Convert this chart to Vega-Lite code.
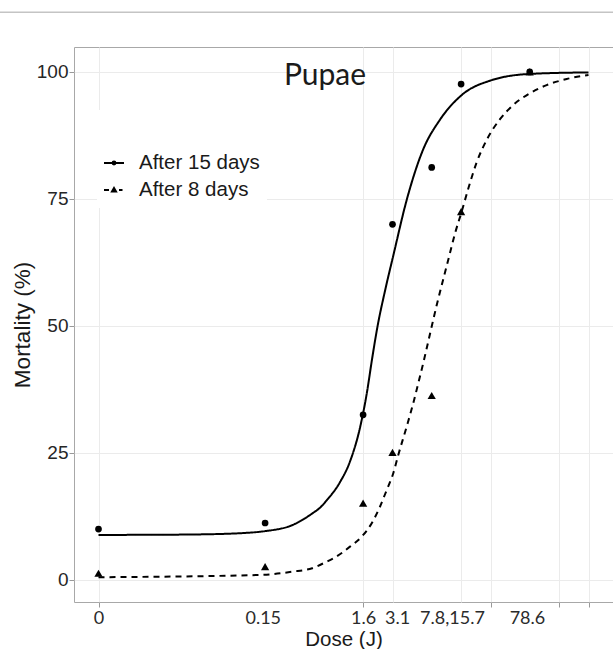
{
  "$schema": "https://vega.github.io/schema/vega-lite/v6.json",
  "width": 539,
  "height": 555,
  "autosize": {"type": "none"},
  "padding": {"left": 74, "top": 47, "right": 0, "bottom": 47},
  "background": "white",
  "config": {
    "view": {"stroke": "#a8a8a8", "strokeWidth": 1}
  },
  "datasets": {
    "points": [
      {"series": "After 15 days", "dose": "0", "L": -2.5, "val": 10.0},
      {"series": "After 15 days", "dose": "0.15", "L": -0.8, "val": 11.2},
      {"series": "After 15 days", "dose": "1.6", "L": 0.2, "val": 32.5},
      {"series": "After 15 days", "dose": "3.1", "L": 0.5, "val": 70.0},
      {"series": "After 15 days", "dose": "7.8", "L": 0.9, "val": 81.2},
      {"series": "After 15 days", "dose": "15.7", "L": 1.2, "val": 97.6},
      {"series": "After 15 days", "dose": "78.6", "L": 1.9, "val": 100.0},
      {"series": "After 8 days", "dose": "0", "L": -2.5, "val": 1.3},
      {"series": "After 8 days", "dose": "0.15", "L": -0.8, "val": 2.6},
      {"series": "After 8 days", "dose": "1.6", "L": 0.2, "val": 15.1},
      {"series": "After 8 days", "dose": "3.1", "L": 0.5, "val": 25.1},
      {"series": "After 8 days", "dose": "7.8", "L": 0.9, "val": 36.3},
      {"series": "After 8 days", "dose": "15.7", "L": 1.2, "val": 72.5},
      {"series": "After 8 days", "dose": "78.6", "L": 1.9, "val": 100.0}
    ],
    "curves": [
      {"series": "After 15 days", "L": -2.5, "val": 8.85},
      {"series": "After 15 days", "L": -2.0, "val": 8.88},
      {"series": "After 15 days", "L": -1.5, "val": 8.95},
      {"series": "After 15 days", "L": -1.0, "val": 9.25},
      {"series": "After 15 days", "L": -0.8, "val": 9.6},
      {"series": "After 15 days", "L": -0.52, "val": 10.8},
      {"series": "After 15 days", "L": -0.31, "val": 13.2},
      {"series": "After 15 days", "L": -0.24, "val": 14.2},
      {"series": "After 15 days", "L": -0.17, "val": 15.7},
      {"series": "After 15 days", "L": -0.04, "val": 19.1},
      {"series": "After 15 days", "L": 0.07, "val": 23.5},
      {"series": "After 15 days", "L": 0.17, "val": 30.1},
      {"series": "After 15 days", "L": 0.24, "val": 37.0},
      {"series": "After 15 days", "L": 0.29, "val": 43.3},
      {"series": "After 15 days", "L": 0.35, "val": 50.2},
      {"series": "After 15 days", "L": 0.42, "val": 56.6},
      {"series": "After 15 days", "L": 0.51, "val": 64.0},
      {"series": "After 15 days", "L": 0.645, "val": 74.8},
      {"series": "After 15 days", "L": 0.81, "val": 84.6},
      {"series": "After 15 days", "L": 0.985, "val": 90.6},
      {"series": "After 15 days", "L": 1.21, "val": 95.5},
      {"series": "After 15 days", "L": 1.5, "val": 98.3},
      {"series": "After 15 days", "L": 1.9, "val": 99.6},
      {"series": "After 15 days", "L": 2.5, "val": 99.9},
      {"series": "After 8 days", "L": -2.5, "val": 0.53},
      {"series": "After 8 days", "L": -0.85, "val": 0.98},
      {"series": "After 8 days", "L": -0.52, "val": 1.63},
      {"series": "After 8 days", "L": -0.32, "val": 2.3},
      {"series": "After 8 days", "L": -0.17, "val": 3.6},
      {"series": "After 8 days", "L": -0.1, "val": 4.27},
      {"series": "After 8 days", "L": 0.066, "val": 6.55},
      {"series": "After 8 days", "L": 0.186, "val": 8.52},
      {"series": "After 8 days", "L": 0.288, "val": 11.16},
      {"series": "After 8 days", "L": 0.372, "val": 14.4},
      {"series": "After 8 days", "L": 0.441, "val": 17.7},
      {"series": "After 8 days", "L": 0.508, "val": 21.0},
      {"series": "After 8 days", "L": 0.559, "val": 24.6},
      {"series": "After 8 days", "L": 0.645, "val": 30.2},
      {"series": "After 8 days", "L": 0.712, "val": 34.8},
      {"series": "After 8 days", "L": 0.763, "val": 38.7},
      {"series": "After 8 days", "L": 0.814, "val": 42.7},
      {"series": "After 8 days", "L": 0.849, "val": 45.6},
      {"series": "After 8 days", "L": 0.95, "val": 54.0},
      {"series": "After 8 days", "L": 1.069, "val": 63.0},
      {"series": "After 8 days", "L": 1.138, "val": 68.2},
      {"series": "After 8 days", "L": 1.206, "val": 72.5},
      {"series": "After 8 days", "L": 1.273, "val": 77.0},
      {"series": "After 8 days", "L": 1.359, "val": 82.2},
      {"series": "After 8 days", "L": 1.461, "val": 86.6},
      {"series": "After 8 days", "L": 1.597, "val": 90.7},
      {"series": "After 8 days", "L": 1.733, "val": 93.5},
      {"series": "After 8 days", "L": 1.903, "val": 95.8},
      {"series": "After 8 days", "L": 2.073, "val": 97.4},
      {"series": "After 8 days", "L": 2.278, "val": 98.6},
      {"series": "After 8 days", "L": 2.5, "val": 99.4}
    ]
  },
  "layer": [
    {
      "data": {"values": [{}]},
      "mark": {"type": "rule", "color": "#c4c4c4", "strokeWidth": 1.5},
      "encoding": {
        "x": {"datum": -3.51, "type": "quantitative"},
        "x2": {"datum": 2.76},
        "y": {"datum": 111.75, "type": "quantitative"}
      }
    },
    {
      "data": {"name": "curves"},
      "mark": {"type": "line", "color": "black", "strokeWidth": 2, "interpolate": "monotone"},
      "encoding": {
        "x": {
          "field": "L",
          "type": "quantitative",
          "scale": {"domain": [-2.75, 2.75], "nice": false, "zero": false},
          "axis": {
            "title": "Dose (J)",
            "values": [-2.5, -0.824, 0.2, 0.5, 0.546, 1.107, 1.2, 1.5, 1.872, 2.2, 2.5],
            "labelExpr": "datum.value == -2.5 ? '0' : datum.value == -0.824 ? '0.15' : datum.value == 0.2 ? '1.6' : datum.value == 0.546 ? '3.1' : datum.value == 1.107 ? '7.8,15.7' : datum.value == 1.872 ? '78.6' : ''",
            "labelFont": "Lato",
            "labelFontSize": 18,
            "labelColor": "#2b2b2b",
            "labelOverlap": false,
            "labelFlush": false,
            "labelBound": false,
            "labelPadding": 2,
            "grid": true,
            "gridColor": "#ebebeb",
            "gridWidth": 1,
            "gridOpacity": {"condition": {"test": "datum.value == -2.5 || datum.value == 0.2 || datum.value == 0.5 || datum.value == 1.2 || datum.value == 1.5 || datum.value == 2.2 || datum.value == 2.5", "value": 1}, "value": 0},
            "tickOpacity": {"condition": {"test": "datum.value == -2.5 || datum.value == 0.2 || datum.value == 1.5 || datum.value == 2.2 || datum.value == 2.5", "value": 1}, "value": 0},
            "tickColor": "#999999",
            "tickSize": 5,
            "domain": false,
            "titleFont": "Liberation Sans",
            "titleFontSize": 20.5,
            "titleFontWeight": "normal",
            "titleColor": "#1a1a1a",
            "titleBaseline": "alphabetic",
            "titleY": 43.5
          }
        },
        "y": {
          "field": "val",
          "type": "quantitative",
          "scale": {"domain": [-4.35, 104.9], "nice": false, "zero": false},
          "axis": {
            "title": "Mortality (%)",
            "values": [0, 25, 50, 75, 100],
            "labelFont": "Liberation Sans",
            "labelFontSize": 19,
            "labelColor": "#262626",
            "labelPadding": 1,
            "grid": true,
            "gridColor": "#ebebeb",
            "gridWidth": 1,
            "tickColor": "#999999",
            "tickSize": 5,
            "domain": false,
            "titleFont": "Liberation Sans",
            "titleFontSize": 22.5,
            "titleFontWeight": "normal",
            "titleColor": "#1a1a1a",
            "titleX": -52,
            "titleY": 277.5,
            "titleAlign": "center",
            "titleBaseline": "middle",
            "titleAngle": 270
          }
        },
        "strokeDash": {
          "field": "series",
          "type": "nominal",
          "scale": {"domain": ["After 15 days", "After 8 days"], "range": [[1, 0], [6, 5]]},
          "legend": null
        }
      }
    },
    {
      "data": {"name": "points"},
      "mark": {"type": "point", "filled": true, "color": "black", "opacity": 1},
      "encoding": {
        "x": {"field": "L", "type": "quantitative"},
        "y": {"field": "val", "type": "quantitative"},
        "shape": {
          "field": "series",
          "type": "nominal",
          "scale": {"domain": ["After 15 days", "After 8 days"], "range": ["circle", "triangle-up"]},
          "legend": null
        },
        "size": {
          "field": "series",
          "type": "nominal",
          "scale": {"domain": ["After 15 days", "After 8 days"], "range": [45, 68]},
          "legend": null
        }
      }
    },
    {
      "data": {"name": "points"},
      "mark": {"type": "point", "filled": false, "color": "black", "opacity": 0, "strokeWidth": 2},
      "encoding": {
        "x": {"field": "L", "type": "quantitative"},
        "y": {"field": "val", "type": "quantitative"},
        "shape": {
          "field": "series",
          "type": "nominal",
          "scale": {
            "domain": ["After 15 days", "After 8 days"],
            "range": [
              "M-1,0L1,0M-0.14,0A0.14,0.14,0,1,1,0.14,0A0.14,0.14,0,1,1,-0.14,0Z",
              "M-1,0L-0.5,0M0.5,0L0.85,0M0,-0.2L0.2,0.14L-0.2,0.14Z"
            ]
          },
          "legend": {
            "orient": "none",
            "legendX": 23,
            "legendY": 63,
            "direction": "vertical",
            "title": " ",
            "titleFontSize": 16,
            "titlePadding": 20,
            "padding": 6,
            "fillColor": "white",
            "strokeColor": "white",
            "symbolSize": 400,
            "symbolStrokeWidth": 2,
            "symbolStrokeColor": "black",
            "symbolFillColor": "black",
            "symbolOpacity": 1,
            "labelFont": "Liberation Sans",
            "labelFontSize": 20.5,
            "labelColor": "#1a1a1a",
            "labelOffset": 14,
            "labelLimit": 300,
            "rowPadding": 5
          }
        }
      }
    },
    {
      "data": {"values": [{}]},
      "mark": {"type": "text", "text": "Pupae", "font": "Lato", "fontSize": 30, "align": "center", "baseline": "alphabetic", "color": "#1a1a1a"},
      "encoding": {
        "x": {"datum": -0.189, "type": "quantitative"},
        "y": {"datum": 97.44, "type": "quantitative"}
      }
    }
  ],
  "resolve": {"scale": {"shape": "independent"}, "legend": {"shape": "independent"}}
}
